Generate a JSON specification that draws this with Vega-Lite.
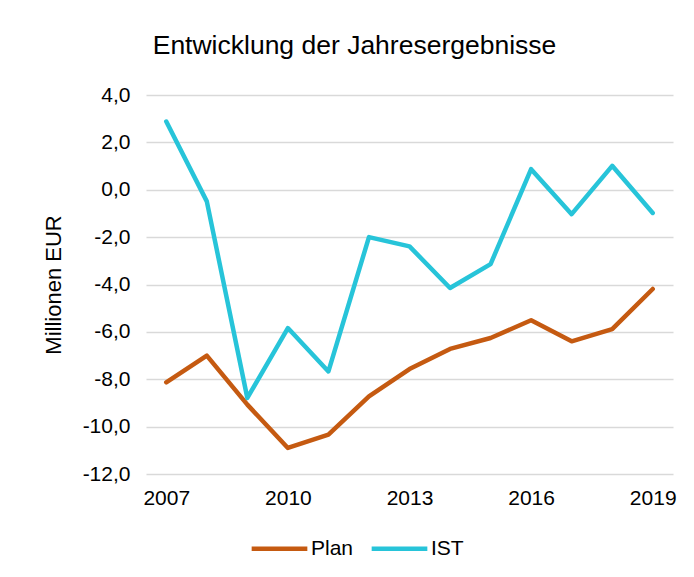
{
  "$schema": "https://vega.github.io/schema/vega-lite/v6.json",
  "autosize": {"type": "none"},
  "width": 527,
  "height": 379,
  "padding": {"left": 146, "top": 95, "right": 21, "bottom": 103},
  "background": "white",
  "title": {
    "text": "Entwicklung der Jahresergebnisse",
    "fontSize": 26.5,
    "font": "Liberation Sans",
    "fontWeight": "normal",
    "color": "#000000",
    "anchor": "middle",
    "frame": "group",
    "dx": -55,
    "offset": 25
  },
  "data": {
    "values": [
      {"year": "2007", "series": "Plan", "value": -8.13},
      {"year": "2008", "series": "Plan", "value": -7.0},
      {"year": "2009", "series": "Plan", "value": -9.07},
      {"year": "2010", "series": "Plan", "value": -10.9},
      {"year": "2011", "series": "Plan", "value": -10.34},
      {"year": "2012", "series": "Plan", "value": -8.72},
      {"year": "2013", "series": "Plan", "value": -7.57},
      {"year": "2014", "series": "Plan", "value": -6.72},
      {"year": "2015", "series": "Plan", "value": -6.26},
      {"year": "2016", "series": "Plan", "value": -5.51},
      {"year": "2017", "series": "Plan", "value": -6.4},
      {"year": "2018", "series": "Plan", "value": -5.88},
      {"year": "2019", "series": "Plan", "value": -4.19},
      {"year": "2007", "series": "IST", "value": 2.88},
      {"year": "2008", "series": "IST", "value": -0.49},
      {"year": "2009", "series": "IST", "value": -8.79},
      {"year": "2010", "series": "IST", "value": -5.84},
      {"year": "2011", "series": "IST", "value": -7.67},
      {"year": "2012", "series": "IST", "value": -2.0},
      {"year": "2013", "series": "IST", "value": -2.39},
      {"year": "2014", "series": "IST", "value": -4.15},
      {"year": "2015", "series": "IST", "value": -3.14},
      {"year": "2016", "series": "IST", "value": 0.87},
      {"year": "2017", "series": "IST", "value": -1.03},
      {"year": "2018", "series": "IST", "value": 1.01},
      {"year": "2019", "series": "IST", "value": -0.98}
    ]
  },
  "mark": {"type": "line", "strokeWidth": 4.5, "strokeCap": "round", "strokeJoin": "round"},
  "encoding": {
    "x": {
      "field": "year",
      "type": "ordinal",
      "scale": {"type": "point", "padding": 0.5},
      "axis": {
        "title": null,
        "values": ["2007", "2010", "2013", "2016", "2019"],
        "labelAngle": 0,
        "domain": false,
        "ticks": false,
        "grid": false,
        "labelPadding": 13,
        "labelFontSize": 21,
        "labelColor": "#000000",
        "labelFont": "Liberation Sans"
      }
    },
    "y": {
      "field": "value",
      "type": "quantitative",
      "scale": {"domain": [-12, 4], "nice": false, "zero": false},
      "axis": {
        "title": "Millionen EUR",
        "values": [-12, -10, -8, -6, -4, -2, 0, 2, 4],
        "labelExpr": "(datum.value < 0 ? '-' : '') + replace(format(abs(datum.value), '.1f'), '.', ',')",
        "domain": false,
        "ticks": false,
        "grid": true,
        "gridColor": "#D9D9D9",
        "gridWidth": 1.3,
        "labelPadding": 16,
        "labelFontSize": 21,
        "labelColor": "#000000",
        "labelFont": "Liberation Sans",
        "titleFontSize": 22,
        "titleFont": "Liberation Sans",
        "titleFontWeight": "normal",
        "titleColor": "#000000",
        "titlePadding": 17
      }
    },
    "color": {
      "field": "series",
      "type": "nominal",
      "scale": {"domain": ["Plan", "IST"], "range": ["#C55A11", "#27C4D9"]},
      "legend": {
        "title": null,
        "orient": "none",
        "direction": "horizontal",
        "legendX": 103,
        "legendY": 423,
        "symbolType": "stroke",
        "symbolSize": 3100,
        "symbolStrokeWidth": 4.5,
        "labelFontSize": 21,
        "labelFont": "Liberation Sans",
        "labelColor": "#000000",
        "labelOffset": 1,
        "columnPadding": 8
      }
    }
  },
  "config": {"view": {"stroke": null}}
}
